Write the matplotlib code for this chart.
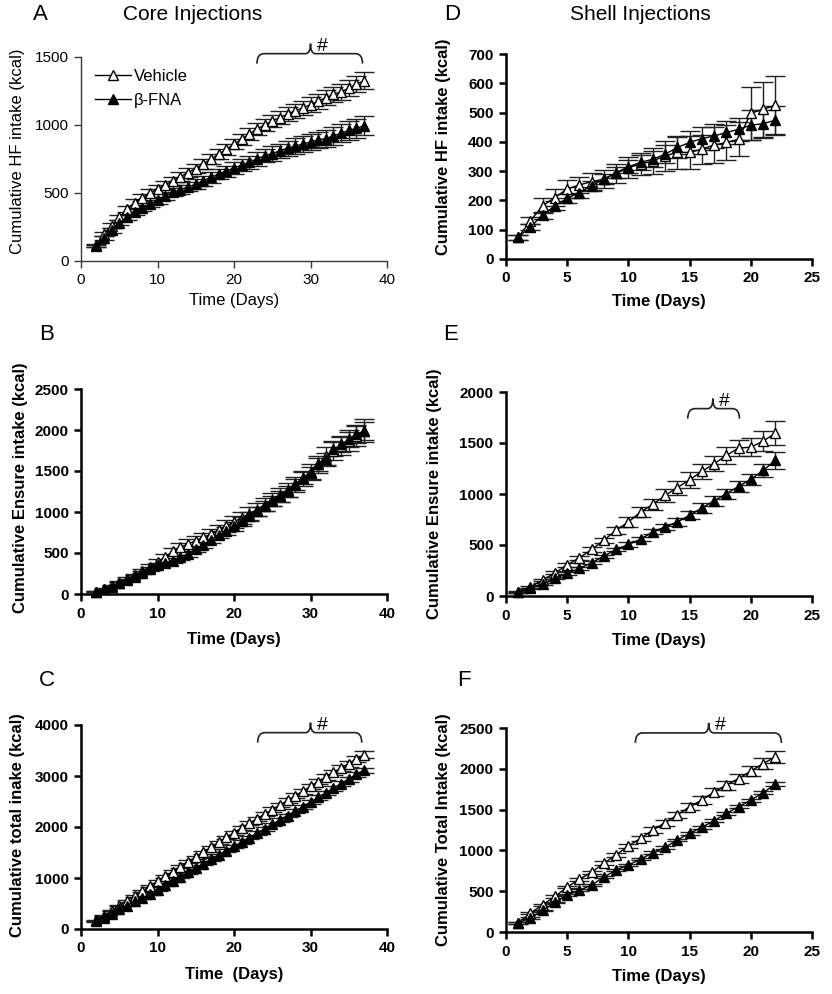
import numpy as np
import matplotlib.pyplot as plt
from matplotlib.path import Path
from matplotlib.patches import PathPatch
from matplotlib.lines import Line2D

plt.rcParams['font.family'] = ['Liberation Sans', 'DejaVu Sans']

W, H = 832, 994

# ---- core injections (days 2..37) ----
DAYS_CORE = list(range(2, 38))

HF_VEH_CORE = [115, 200, 260, 320, 380, 430, 465, 500, 530, 560, 590, 620, 650, 680, 715, 750, 785, 820,
               860, 895, 935, 970, 1000, 1030, 1055, 1080, 1105, 1125, 1150, 1175, 1200, 1225, 1245, 1270, 1300, 1325]
HF_VEH_CORE_ERR = [10, 15, 18, 20, 22, 25, 25, 27, 28, 30, 30, 32, 33, 35, 35, 37, 38, 40,
                   40, 42, 43, 45, 45, 47, 48, 50, 50, 52, 53, 55, 55, 57, 58, 60, 60, 62]
HF_FNA_CORE = [110, 170, 225, 280, 320, 360, 390, 420, 445, 480, 505, 525, 545, 565, 590, 615, 640, 660,
               685, 705, 725, 750, 775, 790, 810, 830, 845, 860, 875, 890, 900, 920, 940, 960, 975, 995]
HF_FNA_CORE_ERR = [10, 14, 16, 18, 20, 22, 24, 25, 27, 28, 30, 32, 33, 35, 37, 38, 40, 42,
                   43, 45, 47, 48, 50, 52, 53, 55, 57, 58, 60, 62, 63, 65, 67, 68, 70, 72]

EN_VEH_CORE = [30, 60, 95, 140, 185, 230, 280, 330, 390, 450, 520, 570, 610, 650, 690, 730, 780, 830,
               880, 930, 980, 1030, 1090, 1150, 1210, 1270, 1340, 1410, 1490, 1580, 1680, 1750, 1810, 1870, 1930, 1990]
EN_VEH_CORE_ERR = [8, 10, 12, 15, 18, 20, 25, 30, 35, 40, 45, 50, 55, 60, 60, 62, 65, 68,
                   70, 72, 75, 78, 80, 82, 85, 88, 90, 95, 100, 105, 110, 115, 120, 125, 130, 140]
EN_FNA_CORE = [29, 57, 90, 131, 171, 212, 261, 302, 355, 376, 408, 449, 490, 547, 600, 661, 722, 763,
               824, 886, 947, 1008, 1069, 1131, 1192, 1253, 1335, 1416, 1478, 1580, 1641, 1763, 1824, 1886, 1947, 1988]
EN_FNA_CORE_ERR = [8, 10, 12, 14, 16, 18, 20, 22, 25, 28, 30, 32, 35, 38, 40, 42, 45, 48,
                   50, 52, 55, 58, 60, 62, 65, 68, 70, 72, 75, 78, 80, 85, 90, 95, 100, 110]

TOT_VEH_CORE = [170, 260, 360, 460, 550, 650, 740, 840, 935, 1030, 1125, 1220, 1315, 1410, 1505, 1600, 1700, 1795,
                1890, 1980, 2070, 2160, 2250, 2340, 2430, 2520, 2610, 2700, 2800, 2890, 2980, 3070, 3160, 3240, 3330, 3420]
TOT_VEH_CORE_ERR = [10, 12, 14, 16, 18, 20, 20, 22, 24, 25, 26, 28, 30, 30, 32, 33, 35, 36,
                    38, 40, 40, 42, 44, 45, 46, 48, 50, 50, 52, 54, 55, 56, 58, 60, 60, 62]
TOT_FNA_CORE = [150, 220, 300, 390, 460, 540, 610, 680, 770, 855, 940, 1025, 1110, 1195, 1280, 1365, 1450, 1535,
                1620, 1705, 1790, 1880, 1965, 2050, 2140, 2225, 2310, 2400, 2490, 2580, 2670, 2760, 2850, 2940, 3030, 3110]
TOT_FNA_CORE_ERR = [8, 10, 12, 14, 15, 16, 18, 18, 20, 20, 22, 22, 24, 25, 26, 27, 28, 30,
                    30, 32, 32, 34, 35, 36, 37, 38, 40, 40, 42, 43, 44, 45, 46, 48, 50, 50]

# ---- shell injections (days 1..22) ----
DAYS_SHELL = list(range(1, 23))

HF_VEH_SHELL = [74, 131, 182, 210, 239, 253, 264, 273, 292, 312, 324, 335, 352, 364, 364, 375, 389, 398, 409, 498, 511, 525]
HF_VEH_SHELL_ERR = [8, 12, 25, 30, 30, 28, 28, 30, 32, 35, 38, 45, 50, 55, 55, 50, 62, 60, 58, 90, 95, 100]
HF_FNA_SHELL = [74, 110, 150, 182, 207, 227, 250, 273, 295, 315, 330, 341, 358, 381, 398, 411, 420, 432, 443, 457, 462, 474]
HF_FNA_SHELL_ERR = [8, 10, 12, 15, 15, 18, 18, 18, 20, 22, 25, 28, 30, 35, 40, 40, 40, 40, 40, 52, 48, 48]

EN_VEH_SHELL = [42, 91, 156, 228, 303, 375, 456, 547, 645, 726, 824, 899, 987, 1062, 1140, 1221, 1296, 1378, 1450, 1459, 1518, 1596]
EN_VEH_SHELL_ERR = [8, 10, 12, 15, 18, 20, 22, 25, 35, 45, 45, 55, 65, 70, 80, 75, 75, 85, 75, 90, 95, 115]
EN_FNA_SHELL = [36, 75, 117, 173, 221, 270, 326, 391, 456, 505, 557, 629, 678, 726, 792, 863, 932, 1003, 1075, 1143, 1231, 1329]
EN_FNA_SHELL_ERR = [8, 8, 10, 10, 12, 12, 15, 15, 18, 20, 20, 25, 30, 35, 40, 45, 45, 50, 55, 55, 65, 80]

TOT_VEH_SHELL = [110, 232, 334, 436, 550, 647, 733, 843, 945, 1055, 1148, 1250, 1340, 1433, 1535, 1616, 1718, 1800, 1881, 1971, 2064, 2146]
TOT_VEH_SHELL_ERR = [8, 10, 12, 15, 15, 18, 20, 22, 25, 28, 30, 32, 35, 40, 45, 48, 50, 55, 58, 60, 65, 75]
TOT_FNA_SHELL = [110, 171, 265, 362, 456, 509, 578, 672, 761, 822, 892, 973, 1038, 1128, 1209, 1283, 1364, 1454, 1535, 1616, 1706, 1812]
TOT_FNA_SHELL_ERR = [8, 8, 10, 10, 10, 12, 12, 12, 12, 14, 14, 14, 15, 15, 16, 16, 18, 18, 18, 20, 20, 22]


fig = plt.figure(figsize=(W / 100, H / 100), dpi=100)


def make_axes(x0, y0, x1, y1):
    return fig.add_axes([x0 / W, 1 - y1 / H, (x1 - x0) / W, (y1 - y0) / H])


def style(ax, bold):
    for s in ['top', 'right']:
        ax.spines[s].set_visible(False)
    if bold:
        col, lw = 'black', 1.8
    else:
        col, lw = '#3a3a3a', 1.0
    for s in ['left', 'bottom']:
        ax.spines[s].set_color(col)
        ax.spines[s].set_linewidth(lw)
    ax.tick_params(direction='out', length=5, width=lw, color=col, labelsize=11, pad=4)
    for lab in ax.get_xticklabels() + ax.get_yticklabels():
        lab.set_fontweight('bold' if bold else 'normal')


def series(ax, days, veh, veh_err, fna, fna_err):
    kw = dict(color='black', ms=7.5, mew=1.0, lw=1.0, ecolor='#222222', elinewidth=1.0,
              capsize=7, capthick=1.0, clip_on=False)
    ax.errorbar(days, veh, yerr=veh_err, fmt='-^', mfc='white', mec='black', **kw)
    ax.errorbar(days, fna, yerr=fna_err, fmt='-^', mfc='black', mec='black', **kw)


def brace(ax, x0, x1, xm, yb, drop=10, rise=10, r=7, rm=5):
    pos = ax.get_position()
    xl, yl = ax.get_xlim(), ax.get_ylim()
    sx = (xl[1] - xl[0]) / (pos.width * W)
    sy = (yl[1] - yl[0]) / (pos.height * H)
    y1 = yb + drop * sy
    yp = y1 + rise * sy
    verts = [(x0, yb), (x0, y1), (x0 + r * sx, y1), (xm - rm * sx, y1), (xm, y1), (xm, yp),
             (xm, y1), (xm + rm * sx, y1), (x1 - r * sx, y1), (x1, y1), (x1, yb)]
    codes = [Path.MOVETO, Path.CURVE3, Path.CURVE3, Path.LINETO, Path.CURVE3, Path.CURVE3,
             Path.CURVE3, Path.CURVE3, Path.LINETO, Path.CURVE3, Path.CURVE3]
    ax.add_patch(PathPatch(Path(verts, codes), fc='none', ec='#222222', lw=1.2, clip_on=False))
    ax.text(xm + 6 * sx, yp - 3 * sy, '#', fontsize=14, ha='left', va='center', clip_on=False)


axA = make_axes(81, 57, 387, 261)
axB = make_axes(81, 389, 387, 594)
axC = make_axes(81, 725, 387, 929)
axD = make_axes(506, 54, 812, 259)
axE = make_axes(506, 392, 812, 596)
axF = make_axes(506, 728, 812, 932)

series(axA, DAYS_CORE, HF_VEH_CORE, HF_VEH_CORE_ERR, HF_FNA_CORE, HF_FNA_CORE_ERR)
series(axB, DAYS_CORE, EN_VEH_CORE, EN_VEH_CORE_ERR, EN_FNA_CORE, EN_FNA_CORE_ERR)
series(axC, DAYS_CORE, TOT_VEH_CORE, TOT_VEH_CORE_ERR, TOT_FNA_CORE, TOT_FNA_CORE_ERR)
series(axD, DAYS_SHELL, HF_VEH_SHELL, HF_VEH_SHELL_ERR, HF_FNA_SHELL, HF_FNA_SHELL_ERR)
series(axE, DAYS_SHELL, EN_VEH_SHELL, EN_VEH_SHELL_ERR, EN_FNA_SHELL, EN_FNA_SHELL_ERR)
series(axF, DAYS_SHELL, TOT_VEH_SHELL, TOT_VEH_SHELL_ERR, TOT_FNA_SHELL, TOT_FNA_SHELL_ERR)

for ax in [axA, axB, axC]:
    ax.set_xlim(0, 40)
    ax.set_xticks([0, 10, 20, 30, 40])
for ax in [axD, axE, axF]:
    ax.set_xlim(0, 25)
    ax.set_xticks([0, 5, 10, 15, 20, 25])

axA.set_ylim(0, 1500); axA.set_yticks([0, 500, 1000, 1500])
axB.set_ylim(0, 2500); axB.set_yticks(range(0, 2501, 500))
axC.set_ylim(0, 4000); axC.set_yticks(range(0, 4001, 1000))
axD.set_ylim(0, 700); axD.set_yticks(range(0, 701, 100))
axE.set_ylim(0, 2000); axE.set_yticks(range(0, 2001, 500))
axF.set_ylim(0, 2500); axF.set_yticks(range(0, 2501, 500))

style(axA, False)
for ax in [axB, axC, axD, axE, axF]:
    style(ax, True)

labels = [
    (axA, 'Time (Days)', 'Cumulative HF intake (kcal)', 'normal', -0.196, -0.206, 0.54),
    (axB, 'Time (Days)', 'Cumulative Ensure intake (kcal)', 'bold', -0.224, -0.199, 0.52),
    (axC, 'Time  (Days)', 'Cumulative total inake (kcal)', 'bold', -0.225, -0.206, 0.51),
    (axD, 'Time (Days)', 'Cumulative HF intake (kcal)', 'bold', -0.205, -0.203, 0.546),
    (axE, 'Time (Days)', 'Cumulative Ensure intake (kcal)', 'bold', -0.22, -0.235, 0.5),
    (axF, 'Time (Days)', 'Cumulative Total Intake (kcal)', 'bold', -0.22, -0.203, 0.5),
]
for ax, xl, yl, fw, xly, ylx, yly in labels:
    ax.set_xlabel(xl, fontsize=12, fontweight=fw, va='center')
    ax.set_ylabel(yl, fontsize=12, fontweight=fw, va='center')
    ax.xaxis.set_label_coords(0.5, xly)
    ax.yaxis.set_label_coords(ylx, yly)

handles = [Line2D([], [], color='black', lw=1.0, marker='^', ms=7.5, mfc='white', mec='black'),
           Line2D([], [], color='black', lw=1.0, marker='^', ms=7.5, mfc='black', mec='black')]
axA.legend(handles, ['Vehicle', '\u03b2-FNA'], loc='upper left', bbox_to_anchor=(0.045, 0.94),
           frameon=False, fontsize=12, handlelength=2.2, handletextpad=0.15, labelspacing=0.5,
           borderpad=0, borderaxespad=0)

brace(axA, 23.0, 36.8, 30.0, 1451)
brace(axC, 23.1, 36.7, 30.0, 3654)
brace(axE, 14.85, 19.07, 16.9, 1739)
brace(axF, 10.57, 22.5, 16.56, 2317)

# panel letters and column titles
fig.text(40 / W, 1 - 15 / H, 'A', fontsize=16, ha='center', va='center')
fig.text(193 / W, 1 - 14 / H, 'Core Injections', fontsize=15, ha='center', va='center')
fig.text(452 / W, 1 - 15 / H, 'D', fontsize=16, ha='center', va='center')
fig.text(640 / W, 1 - 14 / H, 'Shell Injections', fontsize=15, ha='center', va='center')
fig.text(47 / W, 1 - 335 / H, 'B', fontsize=16, ha='center', va='center')
fig.text(451 / W, 1 - 335 / H, 'E', fontsize=16, ha='center', va='center')
fig.text(47 / W, 1 - 681 / H, 'C', fontsize=16, ha='center', va='center')
fig.text(464 / W, 1 - 680 / H, 'F', fontsize=16, ha='center', va='center')

fig.savefig('out.png', dpi=100, facecolor='white')
